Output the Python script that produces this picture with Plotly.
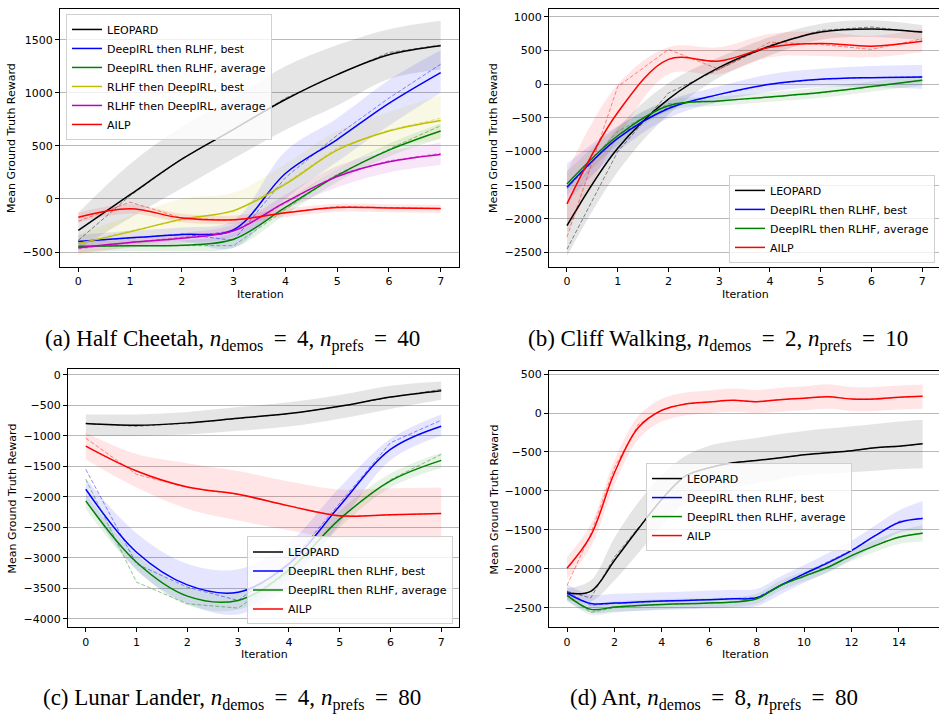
import plotly.graph_objects as go

# ---------------- data ----------------
ITER8 = [0, 1, 2, 3, 4, 5, 6, 7]
ITER16 = [0, 1, 2, 3, 4, 5, 6, 7, 8, 9, 10, 11, 12, 13, 14, 15]

# (a) Half Cheetah
A_leo_s = [-297, 40, 375, 656, 937, 1172, 1359, 1444]
A_leo_r = [-390, 30, 380, 650, 950, 1170, 1380, 1450]
A_leo_lo = [-470, -180, 100, 380, 650, 880, 1130, 1220]
A_leo_hi = [-130, 330, 680, 950, 1250, 1450, 1600, 1680]
A_blue_s = [-400, -365, -335, -290, 240, 560, 900, 1190]
A_blue_r = [-400, -370, -330, -390, 200, 600, 950, 1270]
A_blue_lo = [-460, -430, -400, -460, 0, 350, 690, 1000]
A_blue_hi = [-340, -300, -270, -200, 450, 760, 1120, 1400]
A_green_s = [-445, -440, -437, -380, -80, 220, 460, 640]
A_green_r = [-450, -440, -440, -440, -100, 230, 470, 690]
A_green_lo = [-500, -490, -490, -460, -150, 160, 400, 570]
A_green_hi = [-400, -390, -390, -320, -20, 280, 520, 710]
A_yel_s = [-420, -310, -190, -110, 140, 460, 640, 740]
A_yel_r = [-420, -300, -200, -120, 150, 480, 650, 760]
A_yel_lo = [-530, -450, -380, -290, -50, 280, 480, 560]
A_yel_hi = [-330, -160, 0, 60, 330, 640, 820, 980]
A_mag_s = [-460, -410, -370, -300, -30, 210, 350, 420]
A_mag_r = [-470, -410, -360, -300, -40, 230, 360, 430]
A_mag_lo = [-510, -460, -420, -360, -100, 110, 250, 320]
A_mag_hi = [-410, -360, -320, -240, 40, 310, 450, 530]
A_red_s = [-172, -93, -180, -195, -130, -80, -85, -90]
A_red_r = [-210, -30, -180, -200, -130, -70, -80, -90]
A_red_lo = [-220, -140, -220, -235, -170, -120, -125, -130]
A_red_hi = [-130, -50, -140, -155, -90, -45, -50, -55]

# (b) Cliff Walking
B_leo_s = [-2100, -950, -220, 250, 565, 775, 822, 775]
B_leo_r = [-2450, -1000, -130, 230, 580, 800, 850, 770]
B_leo_lo = [-2550, -1300, -450, 100, 430, 660, 700, 650]
B_leo_hi = [-1750, -650, 20, 400, 700, 900, 950, 880]
B_blue_s = [-1530, -805, -360, -150, 0, 73, 98, 108]
B_blue_r = [-1550, -760, -340, -150, 0, 75, 100, 110]
B_blue_lo = [-1750, -1000, -500, -260, -110, -40, -40, -70]
B_blue_hi = [-1180, -620, -240, -30, 150, 230, 270, 290]
B_green_s = [-1480, -765, -320, -247, -188, -124, -35, 58]
B_green_r = [-1520, -700, -290, -250, -190, -130, -40, 60]
B_green_lo = [-1650, -900, -400, -320, -260, -200, -110, -20]
B_green_hi = [-1300, -630, -240, -180, -120, -50, 40, 130]
B_red_s = [-1776, -420, 369, 344, 551, 605, 566, 640]
B_red_r = [-2270, -35, 517, 221, 625, 591, 517, 675]
B_red_lo = [-2200, -800, 150, 150, 400, 420, 400, 480]
B_red_hi = [-1300, 0, 550, 550, 750, 780, 720, 820]

# (c) Lunar Lander
C_leo_s = [-800, -827, -789, -713, -637, -517, -365, -261]
C_leo_r = [-800, -845, -795, -715, -640, -520, -370, -240]
C_leo_lo = [-1000, -1000, -980, -920, -850, -720, -560, -410]
C_leo_hi = [-650, -650, -610, -530, -450, -330, -180, -110]
C_blue_s = [-1877, -2911, -3445, -3565, -3100, -2150, -1224, -843]
C_blue_r = [-1551, -3102, -3483, -3700, -3100, -2100, -1115, -745]
C_blue_lo = [-2050, -3200, -3750, -3930, -3450, -2450, -1400, -1000]
C_blue_hi = [-1700, -2600, -3100, -3190, -2750, -1850, -1050, -650]
C_green_s = [-2068, -3075, -3630, -3700, -3200, -2367, -1741, -1404]
C_green_r = [-1714, -3401, -3755, -3826, -3250, -2350, -1720, -1306]
C_green_lo = [-2200, -3200, -3780, -3850, -3350, -2500, -1850, -1530]
C_green_hi = [-1950, -2950, -3480, -3550, -3050, -2230, -1620, -1280]
C_red_s = [-1170, -1578, -1840, -1959, -2150, -2313, -2297, -2275]
C_red_r = [-1040, -1633, -1850, -1960, -2150, -2324, -2300, -2275]
C_red_lo = [-1390, -1850, -2200, -2390, -2550, -2700, -2700, -2700]
C_red_hi = [-950, -1300, -1450, -1580, -1750, -1880, -1860, -1850]

# (d) Ant
D_leo_s = [-2312, -2290, -1893, -1490, -1106, -808, -702, -638, -608, -574, -535, -510, -484, -446, -425, -395]
D_leo_r = [-2290, -2375, -1850, -1480, -1100, -800, -700, -640, -610, -575, -535, -510, -485, -445, -430, -395]
D_leo_lo = [-2400, -2420, -2150, -1800, -1450, -1150, -1000, -950, -900, -850, -800, -780, -760, -740, -720, -710]
D_leo_hi = [-2250, -2150, -1600, -1150, -800, -550, -420, -360, -320, -270, -230, -200, -170, -140, -110, -85]
D_blue_s = [-2312, -2445, -2440, -2427, -2415, -2406, -2397, -2385, -2372, -2214, -2065, -1924, -1767, -1575, -1405, -1354]
D_blue_r = [-2290, -2470, -2445, -2430, -2415, -2405, -2395, -2385, -2370, -2210, -2060, -1920, -1760, -1570, -1390, -1345]
D_blue_lo = [-2420, -2560, -2550, -2540, -2530, -2520, -2510, -2500, -2480, -2330, -2180, -2040, -1880, -1700, -1540, -1500]
D_blue_hi = [-2200, -2330, -2320, -2310, -2300, -2290, -2280, -2270, -2260, -2100, -1950, -1800, -1640, -1440, -1250, -1130]
D_green_s = [-2342, -2521, -2491, -2470, -2457, -2449, -2440, -2427, -2385, -2214, -2095, -1980, -1831, -1703, -1596, -1545]
D_green_r = [-2330, -2560, -2500, -2475, -2460, -2450, -2440, -2430, -2390, -2215, -2095, -1980, -1830, -1700, -1590, -1540]
D_green_lo = [-2400, -2590, -2560, -2540, -2520, -2510, -2500, -2490, -2450, -2280, -2160, -2050, -1900, -1780, -1680, -1650]
D_green_hi = [-2280, -2450, -2420, -2400, -2390, -2380, -2375, -2365, -2320, -2150, -2030, -1910, -1760, -1630, -1510, -1440]
D_red_s = [-1993, -1575, -766, -190, 36, 117, 142, 163, 146, 172, 189, 210, 180, 180, 202, 215]
D_red_r = [-2214, -1550, -700, -150, 40, 120, 145, 165, 145, 175, 190, 215, 180, 180, 200, 215]
D_red_lo = [-2130, -1720, -920, -340, -110, -30, -5, 15, 0, 20, 35, 55, 25, 25, 45, 55]
D_red_hi = [-1850, -1430, -610, -40, 185, 265, 290, 315, 295, 325, 345, 370, 335, 335, 355, 365]

NAMES = {
    "leo": "LEOPARD",
    "blue": "DeepIRL then RLHF, best",
    "green": "DeepIRL then RLHF, average",
    "yel": "RLHF then DeepIRL, best",
    "mag": "RLHF then DeepIRL, average",
    "red": "AILP",
}
COLORS = {
    "leo": (0, 0, 0),
    "blue": (0, 0, 255),
    "green": (0, 128, 0),
    "yel": (191, 191, 0),
    "mag": (191, 0, 191),
    "red": (255, 0, 0),
}

EQ = "\u2009=\u2009"
CAPTIONS = [
    "(a) Half Cheetah, <i>n</i><sub>demos</sub> " + EQ + " 4, <i>n</i><sub>prefs</sub> " + EQ + " 40",
    "(b) Cliff Walking, <i>n</i><sub>demos</sub> " + EQ + " 2, <i>n</i><sub>prefs</sub> " + EQ + " 10",
    "(c) Lunar Lander, <i>n</i><sub>demos</sub> " + EQ + " 4, <i>n</i><sub>prefs</sub> " + EQ + " 80",
    "(d) Ant, <i>n</i><sub>demos</sub> " + EQ + " 8, <i>n</i><sub>prefs</sub> " + EQ + " 80",
]

panels = [
    dict(ax="", x=ITER8, legend="legend", series=[
        ("leo", A_leo_s, A_leo_r, A_leo_lo, A_leo_hi),
        ("blue", A_blue_s, A_blue_r, A_blue_lo, A_blue_hi),
        ("green", A_green_s, A_green_r, A_green_lo, A_green_hi),
        ("yel", A_yel_s, A_yel_r, A_yel_lo, A_yel_hi),
        ("mag", A_mag_s, A_mag_r, A_mag_lo, A_mag_hi),
        ("red", A_red_s, A_red_r, A_red_lo, A_red_hi)]),
    dict(ax="2", x=ITER8, legend="legend2", series=[
        ("leo", B_leo_s, B_leo_r, B_leo_lo, B_leo_hi),
        ("blue", B_blue_s, B_blue_r, B_blue_lo, B_blue_hi),
        ("green", B_green_s, B_green_r, B_green_lo, B_green_hi),
        ("red", B_red_s, B_red_r, B_red_lo, B_red_hi)]),
    dict(ax="3", x=ITER8, legend="legend3", series=[
        ("leo", C_leo_s, C_leo_r, C_leo_lo, C_leo_hi),
        ("blue", C_blue_s, C_blue_r, C_blue_lo, C_blue_hi),
        ("green", C_green_s, C_green_r, C_green_lo, C_green_hi),
        ("red", C_red_s, C_red_r, C_red_lo, C_red_hi)]),
    dict(ax="4", x=ITER16, legend="legend4", series=[
        ("leo", D_leo_s, D_leo_r, D_leo_lo, D_leo_hi),
        ("blue", D_blue_s, D_blue_r, D_blue_lo, D_blue_hi),
        ("green", D_green_s, D_green_r, D_green_lo, D_green_hi),
        ("red", D_red_s, D_red_r, D_red_lo, D_red_hi)]),
]


def rgba(c, a):
    return "rgba(%d,%d,%d,%s)" % (c[0], c[1], c[2], a)


fig = go.Figure()
for p in panels:
    xa, ya = "x" + p["ax"], "y" + p["ax"]
    x = p["x"]
    # bands first (below all lines)
    for key, s, r, lo, hi in p["series"]:
        c = COLORS[key]
        fig.add_trace(go.Scatter(x=x, y=lo, xaxis=xa, yaxis=ya, mode="lines",
                                 line=dict(width=0, shape="spline", color=rgba(c, 0)),
                                 showlegend=False, hoverinfo="skip"))
        fig.add_trace(go.Scatter(x=x, y=hi, xaxis=xa, yaxis=ya, mode="lines",
                                 line=dict(width=0, shape="spline", color=rgba(c, 0)),
                                 fill="tonexty", fillcolor=rgba(c, 0.1),
                                 showlegend=False, hoverinfo="skip"))
    for key, s, r, lo, hi in p["series"]:
        c = COLORS[key]
        fig.add_trace(go.Scatter(x=x, y=r, xaxis=xa, yaxis=ya, mode="lines",
                                 line=dict(width=1, dash="4px,2px", color=rgba(c, 0.45)),
                                 showlegend=False, hoverinfo="skip"))
        fig.add_trace(go.Scatter(x=x, y=s, xaxis=xa, yaxis=ya, mode="lines",
                                 line=dict(width=1.5, shape="spline", color=rgba(c, 1)),
                                 name=NAMES[key], legend=p["legend"]))

W, H = 939, 714


def px_x(v):
    return v / W


def px_y(v):
    return 1 - v / H


FONT = "DejaVu Sans"
axis_common = dict(showline=True, linecolor="black", linewidth=1, ticks="outside",
                   ticklen=4, tickwidth=1, tickcolor="black", zeroline=False,
                   tickfont=dict(family=FONT, size=11, color="black"))

boxes = {
    "": (60, 459, 6, 265, [-0.354, 7.354], [-640, 1790], [-500, 0, 500, 1000, 1500], 1, True),
    "2": (549, 939, 6, 265, [-0.354, 7.33], [-2712, 1118], [-2500, -2000, -1500, -1000, -500, 0, 500, 1000], 1, False),
    "3": (68, 459, 368, 627, [-0.35, 7.35], [-4142, 87], [-4000, -3500, -3000, -2500, -2000, -1500, -1000, -500, 0], 1, True),
    "4": (549, 939, 370, 627, [-0.76, 15.69], [-2752, 534], [-2500, -2000, -1500, -1000, -500, 0, 500], 2, False),
}
layout = {}
for k, (l, r, t, b, xr, yr, yt, step, mirror_y) in boxes.items():
    layout["xaxis" + k] = dict(axis_common, domain=[px_x(l), px_x(r)], range=xr,
                               anchor="y" + k, showgrid=False, mirror=True,
                               tickmode="linear", tick0=0, dtick=step)
    layout["yaxis" + k] = dict(axis_common, domain=[px_y(b), px_y(t)], range=yr,
                               anchor="x" + k, showgrid=True, gridcolor="#b9b9b9",
                               gridwidth=1.4, mirror=mirror_y,
                               tickmode="array", tickvals=yt)

legend_style = dict(bgcolor="rgba(255,255,255,0.8)", bordercolor="#d0d0d0", borderwidth=1,
                    font=dict(family=FONT, size=11, color="black"), tracegroupgap=0,
                    traceorder="normal")
layout["legend"] = dict(legend_style, x=px_x(66), y=px_y(11), xanchor="left", yanchor="top")
layout["legend2"] = dict(legend_style, x=px_x(935), y=px_y(261), xanchor="right", yanchor="bottom")
layout["legend3"] = dict(legend_style, x=px_x(453), y=px_y(624), xanchor="right", yanchor="bottom")
layout["legend4"] = dict(legend_style, x=px_x(646), y=px_y(462), xanchor="left", yanchor="top")

annotations = []
# axis titles
for xc, yc in [(12, 135.5), (494, 135.5), (12, 497.5), (494, 498.5)]:
    annotations.append(dict(text="Mean Ground Truth Reward", x=px_x(xc), y=px_y(yc),
                            xref="paper", yref="paper", showarrow=False, textangle=-90,
                            font=dict(family=FONT, size=11, color="black"),
                            xanchor="center", yanchor="middle"))
for xc, yc in [(260, 293), (745, 293), (264, 654), (745, 654)]:
    annotations.append(dict(text="Iteration", x=px_x(xc), y=px_y(yc),
                            xref="paper", yref="paper", showarrow=False,
                            font=dict(family=FONT, size=11, color="black"),
                            xanchor="center", yanchor="middle"))
# captions
for txt, xc, yc in zip(CAPTIONS, [232, 718, 232, 714], [339, 339, 699, 699]):
    annotations.append(dict(text=txt, x=px_x(xc), y=px_y(yc), xref="paper", yref="paper",
                            showarrow=False, xanchor="center", yanchor="middle",
                            font=dict(family="Liberation Serif", size=23, color="black")))

fig.update_layout(width=W, height=H, margin=dict(l=0, r=0, t=0, b=0),
                  plot_bgcolor="white", paper_bgcolor="white",
                  annotations=annotations, **layout)

fig.write_html("out.html")
